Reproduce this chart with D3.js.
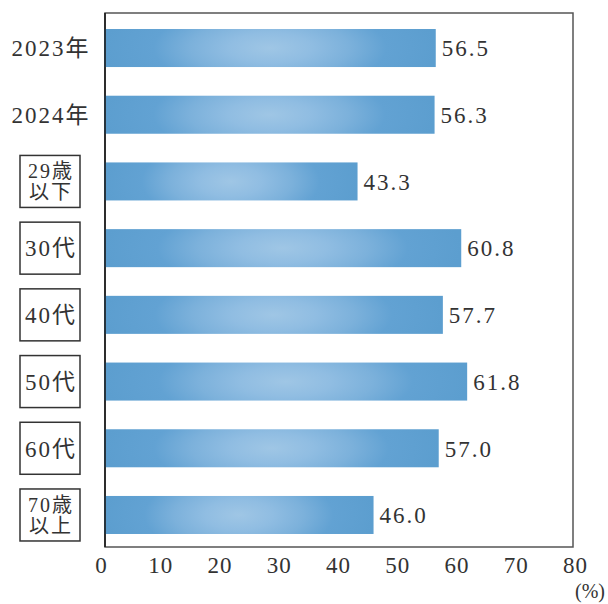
<!DOCTYPE html>
<html><head><meta charset="utf-8">
<script src="https://cdn.jsdelivr.net/npm/d3@7"></script>
<style>body{margin:0;background:#fff}svg{display:block}</style>
</head><body>
<svg id="c" width="608" height="604"></svg>
<script>
const categories = [["2023年"],["2024年"],["29歳","以下"],["30代"],["40代"],["50代"],["60代"],["70歳","以上"]];
const boxed = [false,false,true,true,true,true,true,true];
const values = [56.5,56.3,43.3,60.8,57.7,61.8,57.0,46.0];
const ticks = [0,10,20,30,40,50,60,70,80];
const unitLabel = "(%)";

const svg = d3.select("#c");
const font = "'Liberation Serif','DejaVu Serif','Noto Sans CJK JP',serif";
const frame = {l:105, t:13, r:573, b:547};
const x = d3.scaleLinear().domain([0,80]).range([101,575]);
const y = d3.scaleBand().domain(d3.range(categories.length)).range([13,550]).paddingInner(0.43).paddingOuter(0.24);

const defs = svg.append("defs");
const g = defs.append("radialGradient").attr("id","bg").attr("cx","0.5").attr("cy","0.5").attr("r","0.5")
  .attr("gradientTransform","translate(0.5,0.5) scale(1,3.2) translate(-0.5,-0.5)");
g.append("stop").attr("offset","0%").attr("stop-color","#9fc6e5");
g.append("stop").attr("offset","25%").attr("stop-color","#90bde2");
g.append("stop").attr("offset","48%").attr("stop-color","#7cb1db");
g.append("stop").attr("offset","70%").attr("stop-color","#62a2d3");
g.append("stop").attr("offset","100%").attr("stop-color","#5c9ecf");

// frame
svg.append("rect").attr("x",frame.l).attr("y",frame.t).attr("width",frame.r-frame.l).attr("height",frame.b-frame.t)
  .attr("fill","none").attr("stroke","#555").attr("stroke-width",1.5);

// bars
svg.selectAll("rect.bar").data(values).join("rect").attr("class","bar")
  .attr("x",frame.l-1).attr("y",(d,i)=>y(i)).attr("height",y.bandwidth())
  .attr("width",d=>x(d)-(frame.l-1)).attr("fill","url(#bg)");

svg.append("line").attr("x1",frame.l).attr("x2",frame.l).attr("y1",frame.t).attr("y2",frame.b)
  .attr("stroke","#1a1a1a").attr("stroke-width",1.6);

// value labels
svg.selectAll("text.val").data(values).join("text").attr("class","val")
  .attr("x",d=>x(d)+6).attr("y",(d,i)=>y(i)+y.bandwidth()/2).attr("dy","0.36em")
  .attr("font-family",font).attr("font-size",23).attr("letter-spacing",2).attr("fill","#333")
  .text(d=>d.toFixed(1));

// category labels
const cx = 50;
categories.forEach((lines,i)=>{
  const cy = y(i)+y.bandwidth()/2;
  if(boxed[i]){
    svg.append("rect").attr("x",cx-30).attr("y",cy-26).attr("width",60).attr("height",52)
      .attr("fill","none").attr("stroke","#333").attr("stroke-width",1.5);
  }
  lines.forEach((s,k)=>{
    const off = lines.length===1 ? 0 : (k===0?-10.5:10.5);
    svg.append("text").attr("text-anchor","middle").attr("font-family",font)
      .attr("font-size",lines.length===1?23:20).attr("letter-spacing",lines.length===1?2:2).attr("fill","#333")
      .attr("x",cx+1).attr("y",cy+off).attr("dy","0.36em").text(s);
  });
});

// x axis
const ax = svg.append("g").attr("transform",`translate(0,${frame.b})`)
  .call(d3.axisBottom(x).tickValues(ticks).tickSize(0).tickPadding(10));
ax.select(".domain").remove();
ax.selectAll("text").attr("font-family",font).attr("font-size",23).attr("fill","#333").attr("letter-spacing",1);

svg.append("text").attr("x",605).attr("y",598).attr("text-anchor","end")
  .attr("font-family",font).attr("font-size",20).attr("fill","#333").text(unitLabel);
</script>
</body></html>
